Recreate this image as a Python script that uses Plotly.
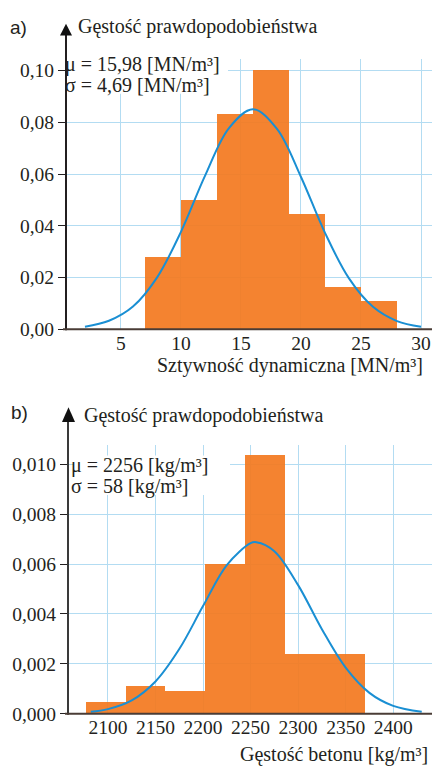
import plotly.graph_objects as go

W, H = 440, 768

# ---------- Data: panel a ----------
a_edges = [7, 10, 13, 16, 19, 22, 25, 28]
a_density = [0.028, 0.050, 0.083, 0.100, 0.0446, 0.0164, 0.0107]
a_curve_x = [2, 4, 6, 8, 10, 12, 14, 16, 18, 20, 22, 24, 26, 28, 30]
a_curve_y = [0.0010, 0.0033, 0.0088, 0.0200, 0.0377, 0.0593, 0.0778, 0.0851,
             0.0775, 0.0589, 0.0373, 0.0197, 0.0087, 0.0032, 0.0010]
a_xticks = [5, 10, 15, 20, 25, 30]
a_yticks = [0.0, 0.02, 0.04, 0.06, 0.08, 0.10]
a_ytick_text = ["0,00", "0,02", "0,04", "0,06", "0,08", "0,10"]

# ---------- Data: panel b ----------
b_edges = [2076.5, 2118.5, 2160.5, 2202.5, 2244.5, 2286.5, 2328.5, 2370.5]
b_density = [0.00047, 0.00111, 0.00091, 0.0060, 0.0104, 0.0024, 0.0024]
b_curve_x = [2082, 2100, 2125, 2150, 2175, 2200, 2225, 2250, 2256, 2275,
             2300, 2325, 2350, 2375, 2400, 2430]
b_curve_y = [0.000076, 0.000185, 0.000536, 0.001295, 0.002594, 0.004316,
             0.005963, 0.006841, 0.006878, 0.006519, 0.005158, 0.003390,
             0.001850, 0.000838, 0.000316, 0.000076]
b_xticks = [2100, 2150, 2200, 2250, 2300, 2350, 2400]
b_yticks = [0.0, 0.002, 0.004, 0.006, 0.008, 0.010]
b_ytick_text = ["0,000", "0,002", "0,004", "0,006", "0,008", "0,010"]

ORANGE = "rgba(243,122,32,0.93)"
BLUE = "#1a8fd3"
GRID = "#b3dcf2"
SERIF = "Liberation Serif"


def centers(edges):
    return [(edges[i] + edges[i + 1]) / 2 for i in range(len(edges) - 1)]


def widths(edges):
    return [edges[i + 1] - edges[i] for i in range(len(edges) - 1)]


fig = go.Figure()

fig.add_trace(go.Bar(x=centers(a_edges), y=a_density, width=widths(a_edges),
                     marker=dict(color=ORANGE, line=dict(width=0)),
                     xaxis="x", yaxis="y", showlegend=False))
fig.add_trace(go.Scatter(x=a_curve_x, y=a_curve_y, mode="lines",
                         line=dict(color=BLUE, width=2, shape="spline"),
                         xaxis="x", yaxis="y", showlegend=False))
fig.add_trace(go.Bar(x=centers(b_edges), y=b_density, width=widths(b_edges),
                     marker=dict(color=ORANGE, line=dict(width=0)),
                     xaxis="x2", yaxis="y2", showlegend=False))
fig.add_trace(go.Scatter(x=b_curve_x, y=b_curve_y, mode="lines",
                         line=dict(color=BLUE, width=2, shape="spline"),
                         xaxis="x2", yaxis="y2", showlegend=False))


def px(x):
    return x / W


def py(y):
    return 1 - y / H


tickfont = dict(family=SERIF, size=19.5, color="#231f20")

fig.update_layout(
    width=W, height=H,
    margin=dict(l=0, r=0, t=0, b=0),
    paper_bgcolor="white", plot_bgcolor="white",
    bargap=0,
    xaxis=dict(domain=[px(58), px(428)], range=[0.42, 31.25],
               tickvals=a_xticks, ticktext=[str(v) for v in a_xticks],
               showgrid=True, gridcolor=GRID, gridwidth=1,
               zeroline=False, showline=False, ticks="",
               tickfont=tickfont, anchor="y"),
    yaxis=dict(domain=[py(326), py(52)], range=[0, 0.1044],
               tickvals=a_yticks, ticktext=a_ytick_text,
               showgrid=True, gridcolor=GRID, gridwidth=1,
               zeroline=False, showline=False, ticks="outside",
               ticklen=7, tickcolor="#231f20", tickwidth=1,
               tickfont=tickfont, anchor="x"),
    xaxis2=dict(domain=[px(60), px(428)], range=[2058, 2445],
                tickvals=b_xticks, ticktext=[str(v) for v in b_xticks],
                showgrid=True, gridcolor=GRID, gridwidth=1,
                zeroline=False, showline=False, ticks="",
                tickfont=tickfont, anchor="y2"),
    yaxis2=dict(domain=[py(716), py(443)], range=[0, 0.01079],
                tickvals=b_yticks, ticktext=b_ytick_text,
                showgrid=True, gridcolor=GRID, gridwidth=1,
                zeroline=False, showline=False, ticks="outside",
                ticklen=7, tickcolor="#231f20", tickwidth=1,
                tickfont=tickfont, anchor="x2"),
)


def rect(x0, y0, x1, y1):
    return dict(type="rect", xref="paper", yref="paper", layer="above",
                x0=px(x0), x1=px(x1), y0=py(y1), y1=py(y0),
                fillcolor="white", line=dict(width=0))


shapes = []
# white boxes behind the parameter texts
shapes.append(rect(61, 47, 220, 87))
shapes.append(rect(66, 454, 222, 494))
# Panel a axes
shapes.append(dict(type="line", xref="paper", yref="paper",
                   x0=px(58), x1=px(58), y0=py(327), y1=py(26),
                   line=dict(color="#231f20", width=2)))
shapes.append(dict(type="line", xref="paper", yref="paper",
                   x0=px(55), x1=px(433), y0=py(326), y1=py(326),
                   line=dict(color="#4a3c36", width=2)))
shapes.append(dict(type="path", xref="paper", yref="paper",
                   path=f"M {px(52)} {py(28)} L {px(64)} {py(28)} L {px(58)} {py(16)} Z",
                   fillcolor="#111111", line=dict(width=0)))
shapes.append(dict(type="path", xref="paper", yref="paper",
                   path=f"M {px(431)} {py(319)} L {px(431)} {py(333)} L {px(441)} {py(326)} Z",
                   fillcolor="#111111", line=dict(width=0)))
# Panel b axes
shapes.append(dict(type="line", xref="paper", yref="paper",
                   x0=px(60), x1=px(60), y0=py(717), y1=py(420),
                   line=dict(color="#3a3a3a", width=2)))
shapes.append(dict(type="line", xref="paper", yref="paper",
                   x0=px(57), x1=px(433), y0=py(716), y1=py(716),
                   line=dict(color="#4a3c36", width=2)))
shapes.append(dict(type="path", xref="paper", yref="paper",
                   path=f"M {px(54)} {py(420)} L {px(67)} {py(420)} L {px(60.5)} {py(405)} Z",
                   fillcolor="#111111", line=dict(width=0)))
shapes.append(dict(type="path", xref="paper", yref="paper",
                   path=f"M {px(431)} {py(709)} L {px(431)} {py(723)} L {px(441)} {py(716)} Z",
                   fillcolor="#111111", line=dict(width=0)))
fig.update_layout(shapes=shapes)

txt = dict(family=SERIF, size=20, color="#231f20")
sans = dict(family="Liberation Sans", size=19, color="#231f20")


def label(text, x, y, xanchor="left", font=txt):
    return dict(text=text, x=px(x), y=py(y), xref="paper", yref="paper",
                xanchor=xanchor, yanchor="middle", showarrow=False, font=font,
                borderpad=0)


ann = [
    label("a)", 1, 20, font=sans),
    label("Gęstość prawdopodobieństwa", 69, 19),
    label("μ = 15,98 [MN/m³]", 56, 57),
    label("σ = 4,69 [MN/m³]", 56, 78),
    label("Sztywność dynamiczna [MN/m³]", 416, 363, xanchor="right"),
    label("b)", 2, 410, font=sans),
    label("Gęstość prawdopodobieństwa", 75, 413),
    label("μ = 2256 [kg/m³]", 62, 464),
    label("σ = 58 [kg/m³]", 62, 485),
    label("Gęstość betonu [kg/m³]", 421, 757, xanchor="right"),
]
fig.update_layout(annotations=ann)

fig.write_html("out.html")
